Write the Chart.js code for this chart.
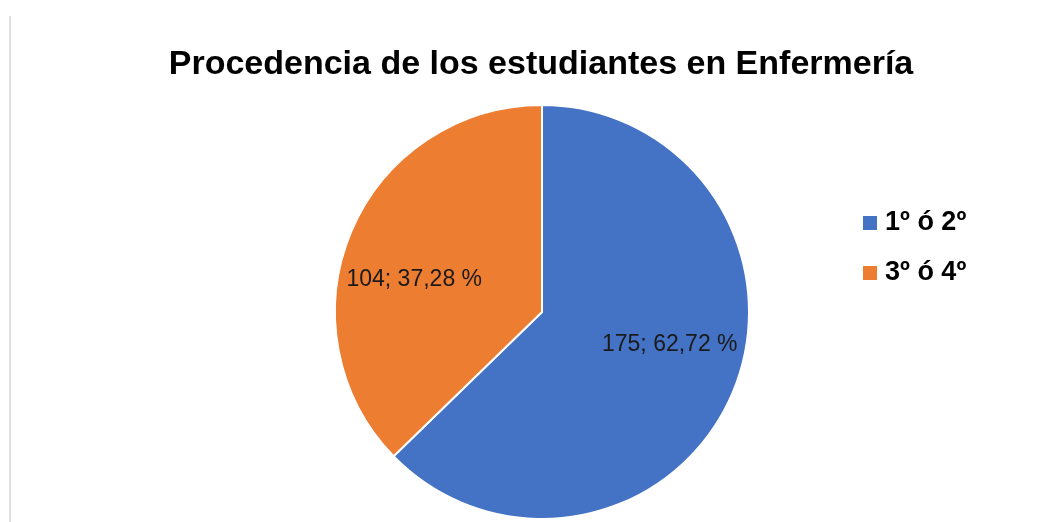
<!DOCTYPE html>
<html>
<head>
<meta charset="utf-8">
<script src="https://cdn.jsdelivr.net/npm/chart.js@4/dist/chart.umd.min.js"></script>
<style>
  html, body { margin: 0; padding: 0; background: #fff; }
  #wrap { position: relative; width: 1057px; height: 522px; }
  #edge { position: absolute; left: 9px; top: 16px; width: 2px; height: 506px; background: #e0e0e0; }
</style>
</head>
<body>
<div id="wrap">
  <div id="edge"></div>
  <canvas id="myChart" width="1057" height="522"></canvas>
</div>
<script>
// datos del grafico
const chartTitle = 'Procedencia de los estudiantes en Enfermería';
const categories = ['1º ó 2º', '3º ó 4º'];
const counts = [175, 104];
const percents = ['62,72 %', '37,28 %'];
const colors = ['#4472C4', '#ED7D31'];

window.addEventListener("DOMContentLoaded", function() {
    const fontFam = '"Liberation Sans", Arial, sans-serif';

    /* titulo, leyenda y etiquetas dibujadas a mano */
    const extras = {
        id: 'extras',
        afterDraw(chart) {
            const ctx = chart.ctx;
            ctx.save();
            // titulo
            ctx.fillStyle = '#000';
            ctx.font = 'bold 34px ' + fontFam;
            ctx.textAlign = 'center';
            ctx.textBaseline = 'alphabetic';
            ctx.fillText(chartTitle, 541, 74);

            // etiquetas de los sectores
            const meta = chart.getDatasetMeta(0);
            ctx.font = '23px ' + fontFam;
            ctx.fillStyle = '#1a1a1a';
            ctx.textBaseline = 'middle';
            meta.data.forEach(function(arc, i) {
                const mid = (arc.startAngle + arc.endAngle) / 2;
                const R = arc.outerRadius;
                const x = arc.x + Math.cos(mid) * R * 0.67;
                const y = arc.y + Math.sin(mid) * R * 0.40;
                ctx.fillText(counts[i] + '; ' + percents[i], x, y);
            });

            // leyenda
            ctx.textAlign = 'left';
            ctx.font = 'bold 27px ' + fontFam;
            categories.forEach(function(lab, i) {
                const y = 223 + i * 50;
                ctx.fillStyle = colors[i];
                ctx.fillRect(863, y - 7, 14, 14);
                ctx.fillStyle = '#000';
                ctx.fillText(lab, 885, y);
            });
            ctx.restore();
        }
    };

    const ctx = document.getElementById('myChart');
    new Chart(ctx, {
        type: 'pie',
        data: {
            labels: categories,
            datasets: [{
                data: counts,
                backgroundColor: colors,
                borderColor: '#ffffff',
                borderWidth: 2
            }]
        },
        options: {
            responsive: false,
            animation: false,
            layout: {
                padding: { top: 104, bottom: 2, left: 334, right: 307 }
            },
            plugins: {
                legend: { display: false },
                title: { display: false },
                tooltip: { enabled: false }
            }
        },
        plugins: [extras]
    });
});
</script>
</body>
</html>
